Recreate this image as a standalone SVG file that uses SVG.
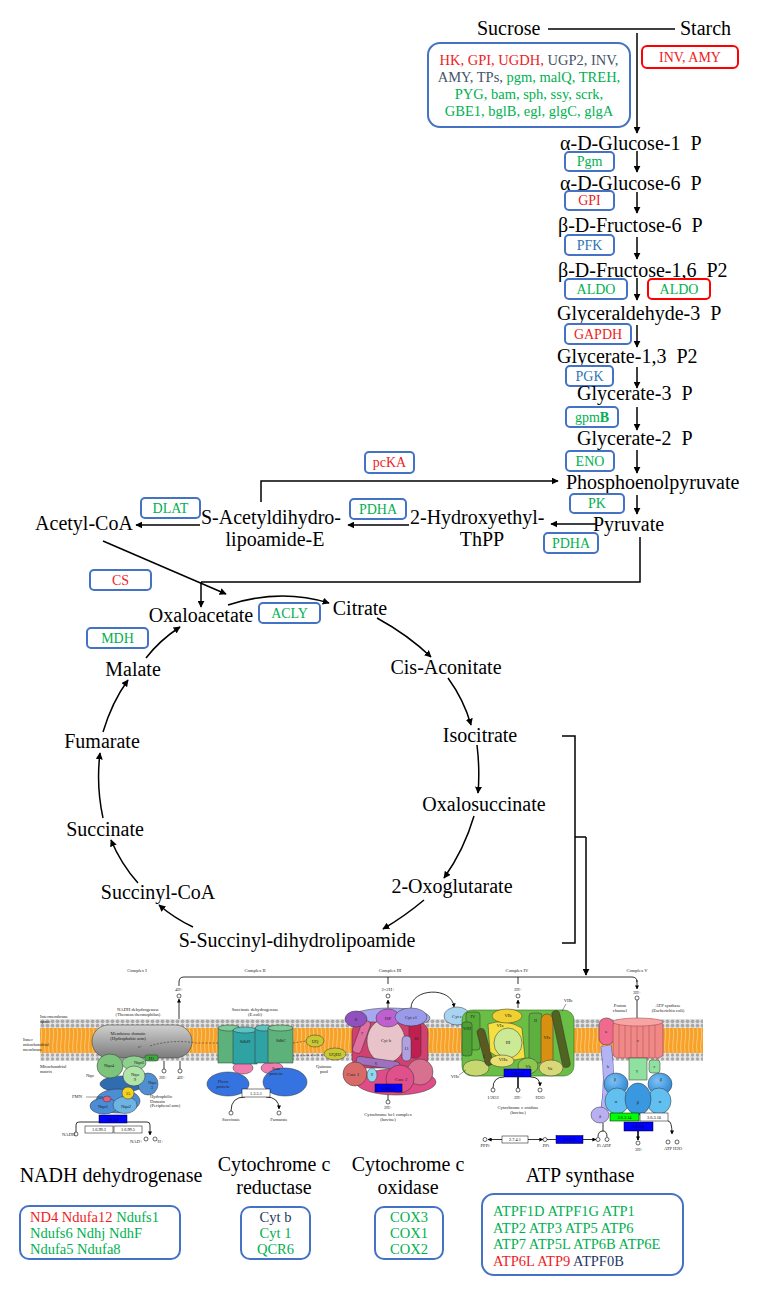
<svg xmlns="http://www.w3.org/2000/svg" width="760" height="1293" viewBox="0 0 760 1293">
<defs>
<style>
.m{font-family:"Liberation Serif","Times New Roman",serif;font-size:20px;fill:#000}
.mc{text-anchor:middle}
.e{font-family:"Liberation Serif","Times New Roman",serif;font-size:14px;text-anchor:middle}
.bl{font-family:"Liberation Serif","Times New Roman",serif;font-size:14.5px}
.bx{fill:#fff;stroke:#4472C4;stroke-width:2}
.rb{fill:#fff;stroke:#FF0000;stroke-width:2}
.R{fill:#EE1C25}.G{fill:#00B050}.B{fill:#2E75B6}.S{fill:#44546A}.N{fill:#1F3864}
.ln{fill:none;stroke:#000;stroke-width:1.5}
.ar{fill:none;stroke:#000;stroke-width:1.5;marker-end:url(#ah)}
.k{font-family:"Liberation Serif","Times New Roman",serif;font-size:4.6px;text-anchor:middle;fill:#222}
.kl{font-family:"Liberation Serif","Times New Roman",serif;font-size:4.6px;fill:#222}
.kn{fill:none;stroke:#000;stroke-width:0.8}
.ka{fill:none;stroke:#000;stroke-width:0.8;marker-end:url(#sa)}
.kt{fill:none;stroke:#000;stroke-width:1.6;marker-end:url(#sa)}
.ol{stroke:#333;stroke-width:0.5}
.ec{fill:#fff;stroke:#000;stroke-width:0.5}
.eb{fill:#0000FF;stroke:#000;stroke-width:0.5}
.eg{fill:#00FF00;stroke:#000;stroke-width:0.5}
.et{font-family:"Liberation Serif","Times New Roman",serif;font-size:4.3px;text-anchor:middle;fill:#000}
.cir{fill:#fff;stroke:#000;stroke-width:0.6}
</style>
<marker id="ah" viewBox="0 0 10 10" refX="9" refY="5" markerWidth="7" markerHeight="7" markerUnits="userSpaceOnUse" orient="auto"><path d="M0,0 L10,5 L0,10 z" fill="#000"/></marker>
<marker id="sa" viewBox="0 0 10 10" refX="9" refY="5" markerWidth="4" markerHeight="4" markerUnits="userSpaceOnUse" orient="auto"><path d="M0,0 L10,5 L0,10 z" fill="#000"/></marker>
<pattern id="hdT" x="0" y="1019" width="5" height="9" patternUnits="userSpaceOnUse"><rect width="5" height="9" fill="#e6e6e6"/><circle cx="2.5" cy="2.3" r="1.9" fill="#a9a9a9"/><circle cx="2.5" cy="6.7" r="1.9" fill="#a9a9a9"/></pattern>
<pattern id="hdB" x="0" y="1053" width="5" height="8" patternUnits="userSpaceOnUse"><rect width="5" height="8" fill="#e6e6e6"/><circle cx="2.5" cy="2" r="1.7" fill="#a9a9a9"/><circle cx="2.5" cy="6" r="1.7" fill="#a9a9a9"/></pattern>
<pattern id="tl" x="0" y="1028" width="4" height="25" patternUnits="userSpaceOnUse"><rect width="4" height="25" fill="#F7A128"/><path d="M1.2,0 Q2.4,6 1.2,12 Q0,18 1.2,25" stroke="#FCD590" stroke-width="0.7" fill="none"/></pattern>
<linearGradient id="gGrey" x1="0" y1="0" x2="0" y2="1"><stop offset="0" stop-color="#cfcfcf"/><stop offset="1" stop-color="#7c7c7c"/></linearGradient>
<radialGradient id="gBlue" cx="0.4" cy="0.35" r="0.7"><stop offset="0" stop-color="#7fc4f4"/><stop offset="1" stop-color="#2a84d4"/></radialGradient>
</defs>
<rect width="760" height="1293" fill="#fff"/>

<!-- ===== Connectors ===== -->
<g id="connectors">
<path class="ln" d="M548,29 H675"/>
<path class="ar" d="M637,33 V133"/>
<path class="ar" d="M637,151 V172"/>
<path class="ar" d="M637,192 V213"/>
<path class="ar" d="M637,237 V259"/>
<path class="ar" d="M637,278 V300"/>
<path class="ar" d="M637,325 V347"/>
<path class="ar" d="M637,367 V388"/>
<path class="ar" d="M637,407 V430"/>
<path class="ar" d="M637,450 V473"/>
<path class="ar" d="M637,495 V514"/>
<path class="ar" d="M261,502 V481 H558"/>
<path class="ar" d="M596,524 H551"/>
<path class="ar" d="M409,525 H348"/>
<path class="ar" d="M200,525 H136"/>
<path class="ln" d="M640,537 V582 H201"/>
<path class="ar" d="M201,582 V607"/>
<path class="ar" d="M103,541 L226,594"/>
<path class="ar" d="M228,605 Q280,588 329,603"/>
<path class="ar" d="M377,618 Q408,635 431,657"/>
<path class="ar" d="M448,678 Q464,700 471,725"/>
<path class="ar" d="M477,745 Q480,770 478,793"/>
<path class="ar" d="M474,816 Q464,850 444,878"/>
<path class="ar" d="M424,900 Q405,916 383,929"/>
<path class="ar" d="M193,927 Q174,918 159,905"/>
<path class="ar" d="M138,883 Q121,864 111,840"/>
<path class="ar" d="M103,818 Q96,786 100,753"/>
<path class="ar" d="M103,732 Q112,702 128,680"/>
<path class="ar" d="M146,658 Q160,640 180,627"/>
<path class="ln" d="M562,736 H575 V943 H562"/>
<path class="ln" d="M575,837 H586"/>
<path class="ar" d="M586,837 V975"/>
<!-- KEGG lines -->
<path class="kn" d="M179,986 V982 Q179,977 184,977 H632 Q637,977 637,982"/>
<path class="ka" d="M637,980 V989"/>
<path class="kn" d="M388,977 V984"/>
<path class="kn" d="M518,977 V984"/>
<path class="ka" d="M179,1025 V999"/>
<path class="ka" d="M388,1010 V1000"/>
<path class="ka" d="M518,1008 V1000"/>
<path class="kn" d="M637,1000 V1019"/>
<path class="ka" d="M164,1069 V1046"/>
<path class="kn" d="M180,1058 V1069"/>
<path class="ka" d="M411,1008 C411,988 452,986 454,1007"/>
<path class="ka" d="M76,1132 V1125 Q76,1122 79,1122 H147 Q150,1122 150,1125 V1135"/>
<path class="kn" d="M245,1097 Q231,1097 231,1111"/>
<path class="ka" d="M266,1097 Q279,1097 279,1109"/>
<path class="kn" d="M388,1092 V1100"/>
<path class="kn" d="M504,1077 Q493,1077 493,1088"/>
<path class="kn" d="M518,1077 V1088" style="stroke-width:1.5"/>
<path class="ka" d="M531,1077 Q540,1077 540,1086"/>
<path class="kn" d="M603,1123 V1131 M598,1137 Q598,1131 603,1131 Q607,1131 607,1137"/>
<path class="kt" d="M638,1131 V1140"/>
<path class="ka" d="M668,1121 Q672,1121 672,1134"/>
<path class="ka" d="M502,1139.5 H488"/>
<path class="ka" d="M528,1139.5 H543"/>
<path class="kn" d="M547,1139.5 H556"/>
<path class="ka" d="M583,1139.5 H596"/>
</g>

<!-- ===== Glycolysis ===== -->
<g id="sucrose"><text class="m" x="477" y="35">Sucrose</text></g>
<g id="starch"><text class="m" x="680" y="35">Starch</text></g>
<g id="enz-sucrose">
<rect class="bx" x="428" y="43" width="202" height="84" rx="12"/>
<text class="bl mc" x="529" y="65"><tspan class="R">HK, GPI, UGDH,</tspan><tspan class="S"> UGP2, INV,</tspan></text>
<text class="bl mc" x="529" y="82"><tspan class="S">AMY, TPs,</tspan><tspan class="G"> pgm, malQ, TREH,</tspan></text>
<text class="bl mc G" x="529" y="99">PYG, bam, sph, ssy, scrk,</text>
<text class="bl mc G" x="529" y="116">GBE1, bglB, egl, glgC, glgA</text>
</g>
<g id="enz-starch"><rect class="rb" x="642" y="46" width="96" height="22" rx="5"/><text class="e R" x="690" y="62">INV, AMY</text></g>
<g id="g1p"><text class="m" x="560" y="150">α-D-Glucose-1&#160; P</text></g>
<g id="pgm"><rect class="bx" x="565" y="152" width="49" height="19" rx="4"/><text class="e G" x="589.5" y="166">Pgm</text></g>
<g id="g6p"><text class="m" x="560" y="190">α-D-Glucose-6&#160; P</text></g>
<g id="gpi"><rect class="bx" x="565" y="191" width="49" height="19" rx="4"/><text class="e R" x="589.5" y="205">GPI</text></g>
<g id="f6p"><text class="m" x="558" y="232">β-D-Fructose-6&#160; P</text></g>
<g id="pfk"><rect class="bx" x="565" y="235" width="49" height="20" rx="4"/><text class="e B" x="589.5" y="250">PFK</text></g>
<g id="f16p"><text class="m" x="558" y="277">β-D-Fructose-1,6&#160; P2</text></g>
<g id="aldo1"><rect class="bx" x="565" y="279" width="62" height="20" rx="4"/><text class="e G" x="596" y="294">ALDO</text></g>
<g id="aldo2"><rect class="rb" x="648" y="279" width="62" height="20" rx="4"/><text class="e G" x="679" y="294">ALDO</text></g>
<g id="g3p"><text class="m" x="557" y="320">Glyceraldehyde-3&#160; P</text></g>
<g id="gapdh"><rect class="bx" x="565" y="324" width="66" height="20" rx="4"/><text class="e R" x="598" y="339">GAPDH</text></g>
<g id="g13p"><text class="m" x="557" y="363">Glycerate-1,3&#160; P2</text></g>
<g id="pgk"><rect class="bx" x="566" y="366" width="47" height="20" rx="4"/><text class="e B" x="589.5" y="381">PGK</text></g>
<g id="g3pp"><text class="m" x="577" y="400">Glycerate-3&#160; P</text></g>
<g id="gpmb"><rect class="bx" x="566" y="407" width="52" height="20" rx="4"/><text class="e G" x="592" y="422">gpm<tspan font-weight="bold">B</tspan></text></g>
<g id="g2p"><text class="m" x="577" y="445">Glycerate-2&#160; P</text></g>
<g id="eno"><rect class="bx" x="566" y="451" width="48" height="20" rx="4"/><text class="e G" x="590" y="466">ENO</text></g>
<g id="pep"><text class="m" x="566" y="489">Phosphoenolpyruvate</text></g>
<g id="pk"><rect class="bx" x="570" y="494" width="54" height="19" rx="4"/><text class="e G" x="597" y="508">PK</text></g>
<g id="pyruvate"><text class="m" x="593" y="531">Pyruvate</text></g>
<g id="pdha2"><rect class="bx" x="544" y="533" width="54" height="20" rx="4"/><text class="e G" x="571" y="548">PDHA</text></g>
<g id="pcka"><rect class="bx" x="365" y="452" width="49" height="21" rx="4"/><text class="e R" x="389.5" y="467">pcKA</text></g>
<g id="hethpp"><text class="m" x="410" y="524">2-Hydroxyethyl-</text><text class="m mc" x="482" y="546">ThPP</text></g>
<g id="pdha1"><rect class="bx" x="350" y="499" width="56" height="20" rx="4"/><text class="e G" x="378" y="514">PDHA</text></g>
<g id="sacetyl"><text class="m" x="201" y="524">S-Acetyldihydro-</text><text class="m mc" x="275" y="546">lipoamide-E</text></g>
<g id="dlat"><rect class="bx" x="141" y="498" width="59" height="20" rx="4"/><text class="e G" x="170.5" y="513">DLAT</text></g>
<g id="acetylcoa"><text class="m mc" x="84" y="530">Acetyl-CoA</text></g>
<g id="cs"><rect class="bx" x="90" y="570" width="61" height="20" rx="4"/><text class="e R" x="120.5" y="585">CS</text></g>

<!-- ===== TCA ===== -->
<g id="oxaloacetate"><text class="m mc" x="201" y="622">Oxaloacetate</text></g>
<g id="acly"><rect class="bx" x="259" y="603" width="61" height="20" rx="4"/><text class="e G" x="289.5" y="618">ACLY</text></g>
<g id="citrate"><text class="m mc" x="360" y="615">Citrate</text></g>
<g id="mdh"><rect class="bx" x="87" y="628" width="61" height="20" rx="4"/><text class="e G" x="117.5" y="643">MDH</text></g>
<g id="malate"><text class="m mc" x="133" y="676">Malate</text></g>
<g id="cisaconitate"><text class="m mc" x="446" y="674">Cis-Aconitate</text></g>
<g id="fumarate"><text class="m mc" x="102" y="748">Fumarate</text></g>
<g id="isocitrate"><text class="m mc" x="480" y="742">Isocitrate</text></g>
<g id="oxalosuccinate"><text class="m mc" x="484" y="811">Oxalosuccinate</text></g>
<g id="succinate"><text class="m mc" x="105" y="836">Succinate</text></g>
<g id="succinylcoa"><text class="m mc" x="158" y="899">Succinyl-CoA</text></g>
<g id="oxoglutarate"><text class="m mc" x="452" y="893">2-Oxoglutarate</text></g>
<g id="ssuccinyl"><text class="m mc" x="297" y="947">S-Succinyl-dihydrolipoamide</text></g>

<!-- ===== Oxidative phosphorylation ===== -->
<g id="membrane">
<rect x="40" y="1019" width="663" height="9" fill="url(#hdT)"/>
<rect x="40" y="1028" width="663" height="25" fill="url(#tl)"/>
<rect x="40" y="1053" width="663" height="8" fill="url(#hdB)"/>
<text class="kl" x="40" y="1018">Intermembrane</text>
<text class="kl" x="40" y="1023">space</text>
<text class="kl" x="23" y="1041">Inner</text>
<text class="kl" x="23" y="1046">mitochondrial</text>
<text class="kl" x="23" y="1051">membrane</text>
<text class="kl" x="40" y="1068">Mitochondrial</text>
<text class="kl" x="40" y="1073">matrix</text>
</g>

<g id="complex1">
<text class="k" x="137" y="972">Complex I</text>
<text class="k" x="138" y="1011">NADH dehydrogenase</text>
<text class="k" x="138" y="1016">(Thermus thermophilus)</text>
<rect x="92" y="1025" width="100" height="33" rx="16.5" fill="url(#gGrey)" class="ol"/>
<text class="k" x="128" y="1035">Membrane domain</text>
<text class="k" x="128" y="1040">(Hydrophobic arm)</text>
<path d="M150,1046 Q172,1039 196,1043 L222,1043" fill="none" stroke="#222" stroke-width="0.5" stroke-dasharray="2,1.5"/>
<text class="k" x="140" y="1048">e-</text>
<text class="kl" x="86" y="1077">Nqo</text>
<ellipse cx="122" cy="1084" rx="22" ry="8" fill="#2F6DB0" class="ol"/>
<ellipse cx="118" cy="1101" rx="22" ry="12" fill="#4C8ED6" class="ol"/>
<ellipse cx="148" cy="1084" rx="10" ry="11" fill="#4F8FD2" class="ol"/>
<ellipse cx="110" cy="1066" rx="13" ry="12" fill="#7CC47C" class="ol"/>
<ellipse cx="134" cy="1063" rx="12" ry="7" fill="#8ED08E" class="ol"/>
<rect x="145" y="1055" width="13" height="6" rx="2" fill="#3DAA3D" class="ol"/>
<ellipse cx="134" cy="1076" rx="11" ry="10" fill="#B0E4A8" class="ol"/>
<ellipse cx="104" cy="1106" rx="14" ry="8" fill="#4A8CD8" class="ol"/>
<ellipse cx="125" cy="1105" rx="12" ry="8.5" fill="#6DB4E4" class="ol"/>
<circle cx="128" cy="1093" r="6" fill="#F6D21E" class="ol"/>
<ellipse cx="107" cy="1099" rx="4" ry="3" fill="#E06080" class="ol"/>
<path d="M86,1097 H103" stroke="#000" stroke-width="0.4"/>
<text class="kl" x="72" y="1098">FMN</text>
<text class="k" x="109" y="1067">Nqo4</text>
<text class="k" x="139" y="1064">Nqo6</text>
<text class="k" x="151.5" y="1059.5">H1</text>
<text class="k" x="135" y="1076">Nqo</text>
<text class="k" x="135" y="1081">9</text>
<text class="k" x="152" y="1084">Nqo</text>
<text class="k" x="152" y="1089">3</text>
<text class="k" x="128" y="1095">15</text>
<text class="k" x="103" y="1108">Nqo1</text>
<text class="k" x="126" y="1108">Nqo2</text>
<text class="kl" x="150" y="1098">Hydrophilic</text>
<text class="kl" x="150" y="1102.5">Domain</text>
<text class="kl" x="150" y="1107">(Peripheral arm)</text>
<text class="k" x="179" y="991">4H+</text>
<circle class="cir" cx="179" cy="996" r="2"/>
<circle class="cir" cx="164" cy="1071" r="2"/>
<circle class="cir" cx="180" cy="1071" r="2"/>
<text class="k" x="163" y="1079">2H+</text>
<text class="k" x="181" y="1079">4H+</text>
<rect class="eb" x="99" y="1115" width="28" height="8"/>
<text class="et" x="113" y="1120.5" fill="#000066">1.6.5.3</text>
<rect class="ec" x="85" y="1126" width="28" height="7"/>
<text class="et" x="99" y="1131">1.6.99.3</text>
<rect class="ec" x="114" y="1126" width="28" height="7"/>
<text class="et" x="128" y="1131">1.6.99.5</text>
<circle class="cir" cx="76" cy="1134" r="2"/>
<text class="kl" x="62" y="1136">NADH</text>
<circle class="cir" cx="146" cy="1139" r="2"/>
<circle class="cir" cx="155" cy="1139" r="2"/>
<text class="kl" x="130" y="1143">NAD+</text>
<text class="kl" x="157.5" y="1143">H+</text>
</g>

<g id="complex2">
<text class="k" x="255" y="972">Complex II</text>
<text class="k" x="255" y="1011">Succinate dehydrogenase</text>
<text class="k" x="255" y="1016">(E.coli)</text>
<ellipse cx="243" cy="1068" rx="10" ry="6" fill="#F07CB0" class="ol"/>
<ellipse cx="272" cy="1068" rx="11" ry="6" fill="#F07CB0" class="ol"/>
<rect x="218" y="1028" width="22" height="35" fill="#5DB27C" class="ol"/>
<ellipse cx="229" cy="1028" rx="11" ry="3" fill="#7FCB98" class="ol"/>
<rect x="233" y="1030" width="24" height="34" fill="#2FA3A3" class="ol"/>
<ellipse cx="245" cy="1030" rx="12" ry="3" fill="#5CC3C3" class="ol"/>
<rect x="255" y="1028" width="18" height="35" fill="#2FA3A3" class="ol"/>
<ellipse cx="264" cy="1028" rx="9" ry="3" fill="#5CC3C3" class="ol"/>
<rect x="268" y="1028" width="25" height="35" fill="#5DB27C" class="ol"/>
<ellipse cx="280.5" cy="1028" rx="12.5" ry="3" fill="#7FCB98" class="ol"/>
<text class="k" x="245" y="1043">SdhD</text>
<text class="k" x="281" y="1042">SdhC</text>
<ellipse cx="228" cy="1084" rx="21" ry="12" fill="#3574E0" class="ol"/>
<ellipse cx="285" cy="1082" rx="22" ry="14" fill="#3574E0" class="ol"/>
<text class="k" x="223" y="1083">Flavo</text>
<text class="k" x="223" y="1088">protein</text>
<text class="k" x="276" y="1070">Iron</text>
<text class="k" x="276" y="1075">protein</text>
<rect class="ec" x="242" y="1089" width="28" height="8"/>
<text class="et" x="256" y="1094.5">1.3.5.1</text>
<circle class="cir" cx="231" cy="1113" r="2"/>
<circle class="cir" cx="279" cy="1113" r="2"/>
<text class="k" x="231" y="1121">Succinate</text>
<text class="k" x="279" y="1121">Fumarate</text>
<path d="M293,1043 L306,1041 M293,1056 L324,1055" fill="none" stroke="#222" stroke-width="0.5" stroke-dasharray="2,1.5"/>
<ellipse cx="315" cy="1041" rx="9" ry="6" fill="#C8C832" class="ol"/>
<text class="k" x="315" y="1043">UQ</text>
<ellipse cx="335" cy="1054" rx="11" ry="6" fill="#C8C832" class="ol"/>
<text class="k" x="335" y="1056">UQH2</text>
<text class="k" x="324" y="1068">Quinone</text>
<text class="k" x="324" y="1073">pool</text>
</g>

<g id="complex3">
<text class="k" x="390" y="972">Complex III</text>
<text class="k" x="388" y="991">2×2H+</text>
<circle class="cir" cx="388" cy="996" r="2"/>
<ellipse cx="390" cy="1018" rx="40" ry="10" fill="#A8A8F0" class="ol"/>
<rect x="352" y="1022" width="76" height="46" rx="10" fill="#D2406F" class="ol"/>
<ellipse cx="396" cy="1082" rx="40" ry="13" fill="#E04C88" class="ol"/>
<ellipse cx="386" cy="1041" rx="19" ry="22" fill="#E8C4CA" class="ol"/>
<rect x="357" y="1020" width="9" height="34" rx="4" fill="#E070A0" class="ol" transform="rotate(20 362 1037)"/>
<rect x="409" y="1022" width="12" height="36" rx="5" fill="#C02050" class="ol"/>
<rect x="402" y="1036" width="9" height="25" rx="4" fill="#B0A0E0" class="ol"/>
<rect x="356" y="1059" width="44" height="8" rx="4" fill="#A070C0" class="ol" transform="rotate(8 378 1063)"/>
<circle cx="420" cy="1072" r="13" fill="#D87090" class="ol"/>
<circle cx="355" cy="1074" r="12" fill="#D86A6A" class="ol"/>
<ellipse cx="372" cy="1075" rx="5" ry="7" fill="#90D8F0" class="ol"/>
<circle cx="400" cy="1079" r="14" fill="#E0508A" class="ol"/>
<ellipse cx="356" cy="1019" rx="11" ry="8" fill="#9050C0" class="ol"/>
<ellipse cx="388" cy="1018" rx="12" ry="9" fill="#C060D0" class="ol"/>
<ellipse cx="411" cy="1017" rx="16" ry="9" fill="#9A9AEA" class="ol"/>
<text class="k" x="356" y="1021">8</text>
<text class="k" x="388" y="1020">ISP</text>
<text class="k" x="411" y="1019">Cyt c1</text>
<text class="k" x="362" y="1035">7</text>
<text class="k" x="386" y="1042">Cyt b</text>
<text class="k" x="416" y="1040">10</text>
<text class="k" x="406.5" y="1050">11</text>
<text class="k" x="376" y="1065">6</text>
<text class="k" x="353" y="1076">Core 1</text>
<text class="k" x="372" y="1076">9</text>
<text class="k" x="401" y="1081">Core 2</text>
<rect class="eb" x="375" y="1084" width="27" height="8"/>
<text class="et" x="388.5" y="1089.5" fill="#000066">1.10.2.2</text>
<circle class="cir" cx="388" cy="1102" r="2"/>
<text class="k" x="388" y="1109">2H+</text>
<text class="k" x="388" y="1116">Cytochrome bc1 complex</text>
<text class="k" x="388" y="1121">(bovine)</text>
</g>

<g id="cytc">
<ellipse cx="457" cy="1016" rx="13" ry="9" fill="#A8D4F2" class="ol"/>
<text class="k" x="457" y="1018">Cyt c</text>
</g>

<g id="complex4">
<text class="k" x="517" y="972">Complex IV</text>
<text class="k" x="518" y="991">2H+</text>
<circle class="cir" cx="518" cy="996" r="2"/>
<rect x="462" y="1010" width="112" height="66" rx="10" fill="#6BBE45" stroke="#2E6E1E" stroke-width="0.6"/>
<rect x="466" y="1012" width="14" height="38" rx="3" fill="#58AE38" class="ol"/>
<rect x="462" y="1022" width="10" height="34" rx="3" fill="#4FA032" class="ol"/>
<ellipse cx="476" cy="1068" rx="13" ry="8" fill="#C8D870" class="ol"/>
<rect x="481" y="1028" width="8" height="38" rx="4" fill="#5A5A20" class="ol" transform="rotate(-15 485 1047)"/>
<path d="M488,1024 Q505,1018 522,1028 L525,1058 Q505,1064 490,1052 Z" fill="#F4E040" class="ol"/>
<ellipse cx="508" cy="1043" rx="14" ry="15" fill="#CCEA94" class="ol"/>
<ellipse cx="507" cy="1016" rx="15" ry="7" fill="#F0D030" class="ol"/>
<rect x="529" y="1013" width="13" height="50" rx="3" fill="#5DB040" class="ol"/>
<rect x="541" y="1014" width="12" height="54" rx="6" fill="#D89010" class="ol"/>
<rect x="557" y="1010" width="8" height="58" rx="4" fill="#4E6420" class="ol" transform="rotate(-12 561 1039)"/>
<ellipse cx="502" cy="1061" rx="12" ry="6" fill="#E8E070" class="ol"/>
<ellipse cx="528" cy="1066" rx="10" ry="8" fill="#8CC850" class="ol"/>
<ellipse cx="551" cy="1068" rx="12" ry="8" fill="#D8D878" class="ol"/>
<text class="k" x="473" y="1018">IV</text>
<text class="k" x="467" y="1030">VIII</text>
<text class="k" x="508" y="1017">VIb</text>
<text class="k" x="500" y="1027">VIa</text>
<text class="k" x="508" y="1044">III</text>
<text class="k" x="547" y="1039">VIc</text>
<text class="k" x="535.5" y="1022">II</text>
<path d="M566,1004 L562,1011" stroke="#000" stroke-width="0.4"/>
<text class="k" x="568" y="1002">VIIb</text>
<text class="k" x="484" y="1058">I</text>
<text class="k" x="503" y="1061">VIIa</text>
<text class="k" x="528" y="1068">Vb</text>
<text class="k" x="550" y="1070">Va</text>
<path d="M459,1075 L466,1070" stroke="#000" stroke-width="0.4"/>
<text class="k" x="455" y="1078">VIIc</text>
<rect class="eb" x="504" y="1069" width="27" height="8"/>
<text class="et" x="517.5" y="1074.5" fill="#000066">1.9.3.1</text>
<circle class="cir" cx="493" cy="1090" r="2"/>
<circle class="cir" cx="518" cy="1090" r="2"/>
<circle class="cir" cx="540" cy="1090" r="2"/>
<text class="k" x="493" y="1099">1/2O2</text>
<text class="k" x="518" y="1099">2H+</text>
<text class="k" x="540" y="1099">H2O</text>
<text class="k" x="518" y="1109">Cytochrome c oxidase</text>
<text class="k" x="518" y="1114">(bovine)</text>
</g>

<g id="complex5">
<text class="k" x="637" y="972">Complex V</text>
<text class="k" x="637" y="994">3H+</text>
<circle class="cir" cx="637" cy="998" r="2"/>
<text class="k" x="620" y="1007">Proton</text>
<text class="k" x="620" y="1012">channel</text>
<text class="k" x="668" y="1007">ATP synthase</text>
<text class="k" x="668" y="1012">(Escherichia coli)</text>
<path d="M606,1046 Q611,1080 606,1110" fill="none" stroke="#5050A0" stroke-width="11"/>
<path d="M606,1046 Q611,1080 606,1110" fill="none" stroke="#B4B4F4" stroke-width="10"/>
<rect x="599" y="1018" width="15" height="27" rx="7" fill="#F06A90" class="ol"/>
<rect x="613" y="1021" width="50" height="37" rx="5" fill="#F08888" stroke="#A04040" stroke-width="0.6"/>
<path d="M619,1024 V1057 M625,1024 V1057 M631,1024 V1057 M637,1024 V1057 M643,1024 V1057 M649,1024 V1057 M655,1024 V1057" stroke="#A04848" stroke-width="0.5"/>
<ellipse cx="638" cy="1022" rx="25" ry="4" fill="#F6A4A4" stroke="#A04040" stroke-width="0.5"/>
<rect x="629" y="1058" width="18" height="22" fill="#90E0A0" class="ol"/>
<rect x="649" y="1060" width="11" height="13" rx="3" fill="#90E0A0" class="ol"/>
<ellipse cx="616" cy="1084" rx="12" ry="11" fill="url(#gBlue)" class="ol"/>
<ellipse cx="660" cy="1084" rx="12" ry="11" fill="url(#gBlue)" class="ol"/>
<ellipse cx="617" cy="1101" rx="12" ry="13" fill="#62C0F0" class="ol"/>
<ellipse cx="659" cy="1101" rx="12" ry="13" fill="#62C0F0" class="ol"/>
<ellipse cx="638" cy="1099" rx="13" ry="16" fill="#3A98E0" class="ol"/>
<ellipse cx="600" cy="1115" rx="9" ry="8" fill="#B8B0F0" class="ol"/>
<text class="k" x="606" y="1033">a</text>
<text class="k" x="638" y="1042">c</text>
<text class="k" x="608" y="1068">b</text>
<text class="k" x="637" y="1072">γ</text>
<text class="k" x="654.5" y="1068">ε</text>
<text class="k" x="615" y="1081">β</text>
<text class="k" x="661" y="1081">β</text>
<text class="k" x="616" y="1103">α</text>
<text class="k" x="638" y="1104">β</text>
<text class="k" x="660" y="1103">α</text>
<text class="k" x="600" y="1118">δ</text>
<rect class="eg" x="610" y="1113" width="29" height="8"/>
<text class="et" x="624.5" y="1118.5">3.6.3.14</text>
<rect class="ec" x="640" y="1113" width="28" height="8"/>
<text class="et" x="654" y="1118.5">3.6.3.10</text>
<rect class="eb" x="624" y="1122" width="29" height="9"/>
<text class="et" x="638.5" y="1128" fill="#000066">3.6.3.6</text>
<circle class="cir" cx="638" cy="1143" r="2"/>
<text class="k" x="639" y="1151">3H+</text>
<circle class="cir" cx="668" cy="1142" r="2"/>
<circle class="cir" cx="677" cy="1142" r="2"/>
<text class="k" x="673" y="1150">ATP H2O</text>
<circle class="cir" cx="598" cy="1139.5" r="2"/>
<circle class="cir" cx="607" cy="1139.5" r="2"/>
<text class="k" x="604" y="1147">Pi ADP</text>
<circle class="cir" cx="545" cy="1139.5" r="2"/>
<text class="k" x="546" y="1147">PPi</text>
<rect class="eb" x="556" y="1135.5" width="27" height="8"/>
<text class="et" x="569.5" y="1141" fill="#000066">3.6.1.1</text>
<rect class="ec" x="502" y="1136" width="26" height="7"/>
<text class="et" x="515" y="1141">2.7.4.1</text>
<circle class="cir" cx="485" cy="1139.5" r="2"/>
<text class="k" x="485" y="1147">PPPi</text>
</g>

<!-- ===== Bottom labels and gene boxes ===== -->
<g id="nadh-dh">
<text class="m mc" x="111" y="1182">NADH dehydrogenase</text>
<rect class="bx" x="20" y="1206" width="160" height="53" rx="9"/>
<text class="bl" x="30" y="1222"><tspan class="R">ND4 Ndufa12</tspan><tspan class="G"> Ndufs1</tspan></text>
<text class="bl G" x="30" y="1238">Ndufs6 Ndhj NdhF</text>
<text class="bl G" x="30" y="1254">Ndufa5 Ndufa8</text>
</g>
<g id="cytc-reductase">
<text class="m mc" x="274" y="1171">Cytochrome c</text>
<text class="m mc" x="274" y="1194">reductase</text>
<rect class="bx" x="241" y="1207" width="69" height="52" rx="9"/>
<text class="bl mc N" x="275.5" y="1222">Cyt b</text>
<text class="bl mc G" x="275.5" y="1238">Cyt 1</text>
<text class="bl mc G" x="275.5" y="1254">QCR6</text>
</g>
<g id="cytc-oxidase">
<text class="m mc" x="408" y="1171">Cytochrome c</text>
<text class="m mc" x="408" y="1194">oxidase</text>
<rect class="bx" x="375" y="1207" width="68" height="52" rx="9"/>
<text class="bl mc G" x="409" y="1222">COX3</text>
<text class="bl mc G" x="409" y="1238">COX1</text>
<text class="bl mc G" x="409" y="1254">COX2</text>
</g>
<g id="atp-synthase">
<text class="m mc" x="580" y="1182">ATP synthase</text>
<rect class="bx" x="482" y="1194" width="201" height="81" rx="12"/>
<text class="bl G" x="493" y="1216">ATPF1D ATPF1G ATP1</text>
<text class="bl G" x="493" y="1233">ATP2 ATP3 ATP5 ATP6</text>
<text class="bl G" x="493" y="1249">ATP7 ATP5L ATP6B ATP6E</text>
<text class="bl" x="493" y="1266"><tspan class="R">ATP6L ATP9</tspan><tspan class="N"> ATPF0B</tspan></text>
</g>
</svg>
